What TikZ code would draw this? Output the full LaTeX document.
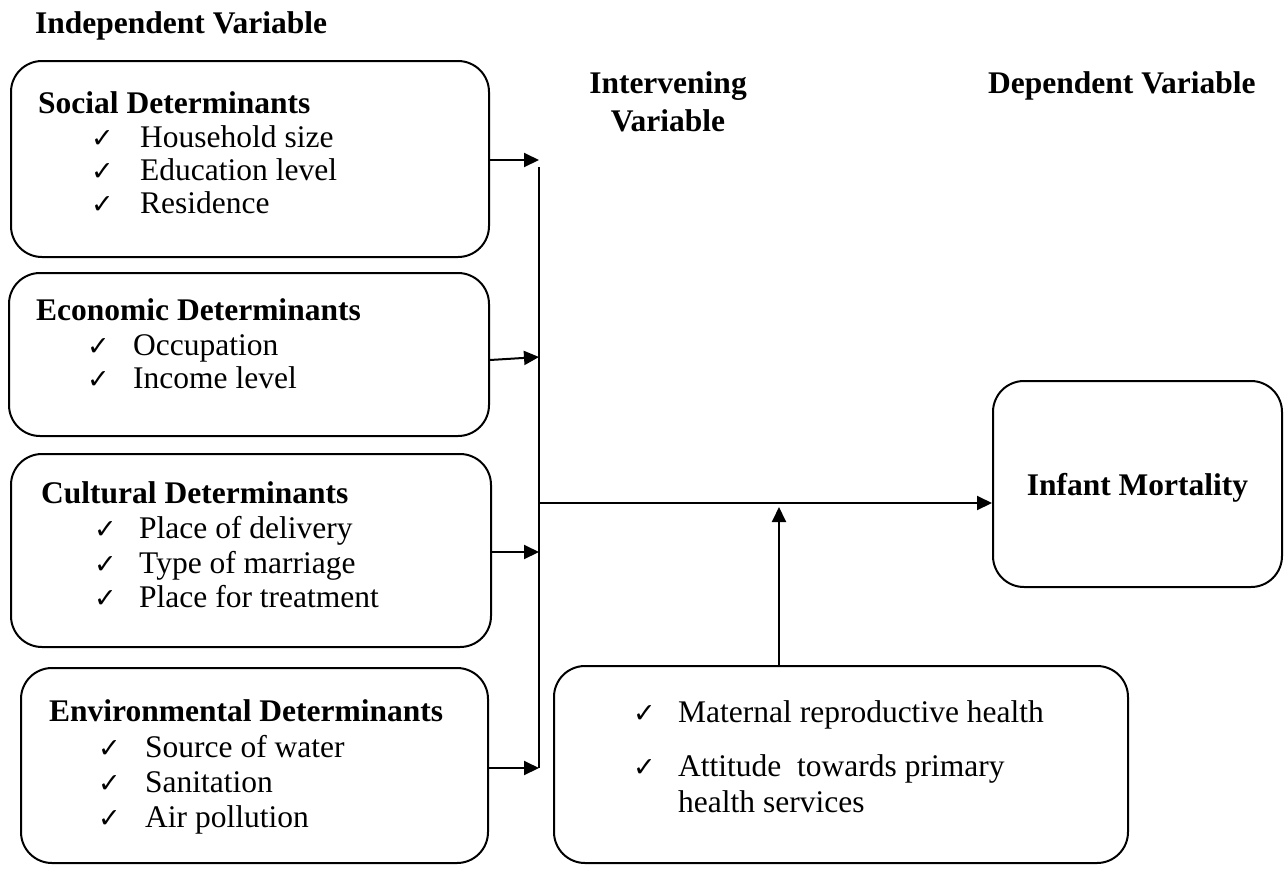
\documentclass[tikz,border=0pt]{standalone}
\usepackage{fontspec}
\setmainfont{Liberation Serif}
\newfontfamily\chk{DejaVu Sans}
\usetikzlibrary{arrows.meta}
\begin{document}
\begin{tikzpicture}[x=1pt,y=-1pt,
  box/.style={draw,line width=2pt,rounded corners=31pt,inner sep=0pt,anchor=north west},
  hd/.style={anchor=base west,inner sep=0pt,font=\fontsize{31.5}{36}\selectfont\bfseries},
  it/.style={anchor=base west,inner sep=0pt,font=\fontsize{31.5}{36}\selectfont},
  ck/.style={anchor=base west,inner sep=0pt,font=\chk\bfseries\fontsize{27}{29}\selectfont},
  arr/.style={line width=2pt,-{Triangle[length=15pt,width=14pt]}},
  ln/.style={line width=2pt}]
\useasboundingbox (0,0) rectangle (1286,871);

% titles
\node[hd] (tind) at (35,33) {Independent Variable};
\node[hd,anchor=base] (tint1) at (668,93) {Intervening};
\node[hd,anchor=base] (tint2) at (668,131) {Variable};
\node[hd] (tdep) at (988,93) {Dependent Variable};

% boxes
\node[box,minimum width=478pt,minimum height=196pt] (soc) at (10,60) {};
\node[box,minimum width=480pt,minimum height=163pt] (eco) at (8,272) {};
\node[box,minimum width=480pt,minimum height=193pt] (cul) at (10,453) {};
\node[box,minimum width=467pt,minimum height=195pt] (env) at (20,667) {};
\node[box,minimum width=574pt,minimum height=197pt] (itv) at (553,665) {};
\node[box,minimum width=289pt,minimum height=206pt] (inf) at (992,380) {};

% social
\node[hd] (socH) at (38,113) {Social Determinants};
\node[ck] (socC1) at (91,147) {✓};
\node[it] (socI1) at (140,147) {Household size};
\node[ck] (socC2) at (91,180) {✓};
\node[it] (socI2) at (140,180) {Education level};
\node[ck] (socC3) at (91,213) {✓};
\node[it] (socI3) at (140,213) {Residence};

% economic
\node[hd] (ecoH) at (36,320) {Economic Determinants};
\node[ck] (ecoC1) at (87,355) {✓};
\node[it] (ecoI1) at (133,355) {Occupation};
\node[ck] (ecoC2) at (87,388) {✓};
\node[it] (ecoI2) at (133,388) {Income level};

% cultural
\node[hd] (culH) at (41,503) {Cultural Determinants};
\node[ck] (culC1) at (94,538) {✓};
\node[it] (culI1) at (139,538) {Place of delivery};
\node[ck] (culC2) at (94,573) {✓};
\node[it] (culI2) at (139,573) {Type of marriage};
\node[ck] (culC3) at (94,607) {✓};
\node[it] (culI3) at (139,607) {Place for treatment};

% environmental
\node[hd] (envH) at (49,721) {Environmental Determinants};
\node[ck] (envC1) at (98,757) {✓};
\node[it] (envI1) at (145,757) {Source of water};
\node[ck] (envC2) at (98,792) {✓};
\node[it] (envI2) at (145,792) {Sanitation};
\node[ck] (envC3) at (98,827) {✓};
\node[it] (envI3) at (145,827) {Air pollution};

% intervening
\node[ck] (itvC1) at (633,722) {✓};
\node[it] (itvI1) at (678,722) {Maternal reproductive health};
\node[ck] (itvC2) at (633,776) {✓};
\node[it] (itvI2) at (678,776) {Attitude\ \ towards primary};
\node[it] (itvI3) at (678,812) {health services};

% infant mortality
\node[hd,anchor=base] (infT) at (inf.center |- 0,495) {Infant Mortality};

% connectors
\coordinate (vtop) at (539,167);
\coordinate (vbot) at (539,768);
\coordinate (j1) at (539,160);
\coordinate (j2) at (539,357);
\coordinate (j3) at (539,552);
\coordinate (j4) at (539,768);
\coordinate (jm) at (539,503);
\coordinate (jup) at (779,503);
\draw[ln] (vtop) -- (vbot);
\draw[arr] (soc.east |- j1) -- (j1);
\draw[arr] (eco.east |- 0,360) -- (j2);
\draw[arr] (cul.east |- j3) -- (j3);
\draw[arr] (env.east |- j4) -- (j4);
\draw[arr] (jm) -- (inf.west |- jm);
\draw[arr] (itv.north -| jup) -- ([yshift=-4pt]jup);
\end{tikzpicture}
\end{document}
